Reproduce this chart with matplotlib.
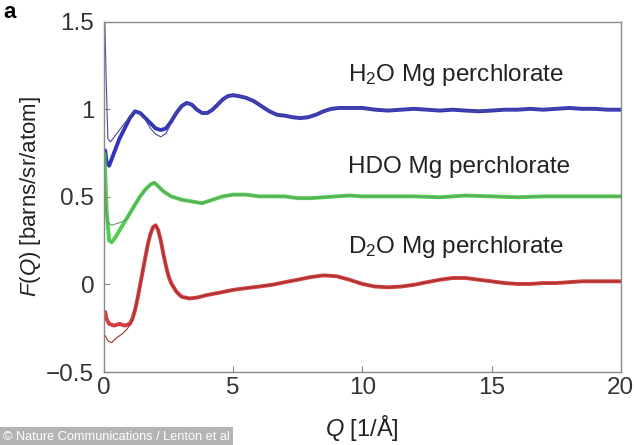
import matplotlib.pyplot as plt
import numpy as np

plt.rcParams['font.family'] = ['Liberation Sans', 'DejaVu Sans']
plt.rcParams['mathtext.fontset'] = 'custom'
plt.rcParams['mathtext.rm'] = 'Liberation Sans'
plt.rcParams['mathtext.it'] = 'Liberation Sans:italic'

# measured total structure factors F(Q), thick = data, thin = model fit
q_h2o = [0.05, 0.1, 0.2, 0.3, 0.45, 0.6, 0.8, 1.0, 1.2, 1.4, 1.6, 1.8, 2.0, 2.2, 2.4,
         2.6, 2.8, 3.0, 3.2, 3.4, 3.6, 3.8, 4.0, 4.2, 4.4, 4.6, 4.8, 5.0, 5.2, 5.5,
         5.8, 6.1, 6.4, 6.7, 7.0, 7.3, 7.6, 7.9, 8.2, 8.5, 8.8, 9.1, 9.5, 10, 10.5,
         11, 11.5, 12, 12.5, 13, 13.5, 14, 14.5, 15, 15.5, 16, 16.5, 17, 17.5, 18,
         18.5, 19, 19.5, 20]
f_h2o = [0.765, 0.697, 0.678, 0.717, 0.775, 0.833, 0.891, 0.950, 0.989, 0.979, 0.950,
         0.921, 0.891, 0.882, 0.891, 0.930, 0.979, 1.018, 1.037, 1.027, 0.998, 0.979,
         0.979, 0.998, 1.027, 1.057, 1.076, 1.081, 1.076, 1.066, 1.047, 1.018, 0.989,
         0.969, 0.964, 0.955, 0.950, 0.955, 0.969, 0.989, 1.003, 1.008, 1.008, 1.008,
         0.998, 0.993, 0.998, 1.003, 0.998, 0.993, 0.998, 0.993, 0.989, 0.993, 0.998,
         0.998, 1.003, 0.998, 1.003, 1.008, 1.003, 1.003, 0.998, 0.998]
q_h2o_fit_low = [0.02, 0.08, 0.15, 0.25, 0.4, 0.6, 0.8, 1.0, 1.2, 1.4, 1.6, 1.8, 2.0,
                 2.2, 2.4, 2.6, 2.8]
f_h2o_fit_low = [1.6, 1.2, 0.833, 0.814, 0.843, 0.882, 0.921, 0.959, 0.989, 0.974,
                 0.940, 0.891, 0.858, 0.843, 0.862, 0.921, 0.979]

q_hdo = [0.02, 0.1, 0.2, 0.3, 0.45, 0.6, 0.8, 1.0, 1.2, 1.4, 1.6, 1.8, 1.95, 2.1, 2.3,
         2.6, 3.0, 3.4, 3.8, 4.2, 4.6, 5.0, 5.5, 6.0, 6.5, 7.0, 7.5, 8.0, 8.5, 9.0,
         9.5, 10, 11, 12, 13, 14, 15, 16, 17, 18, 19, 20]
f_hdo = [0.746, 0.425, 0.251, 0.241, 0.270, 0.309, 0.357, 0.406, 0.455, 0.503, 0.542,
         0.571, 0.581, 0.561, 0.532, 0.503, 0.484, 0.474, 0.464, 0.484, 0.503, 0.513,
         0.513, 0.503, 0.503, 0.503, 0.493, 0.493, 0.498, 0.503, 0.508, 0.503, 0.503,
         0.503, 0.498, 0.508, 0.503, 0.498, 0.503, 0.503, 0.503, 0.503]
q_hdo_fit_low = [0.0, 0.05, 0.12, 0.3, 0.5, 0.7, 0.9]
f_hdo_fit_low = [0.765, 0.523, 0.357, 0.338, 0.348, 0.357, 0.377]

q_d2o = [0.05, 0.1, 0.2, 0.4, 0.6, 0.8, 1.0, 1.1, 1.2, 1.3, 1.4, 1.5, 1.6, 1.7, 1.8,
         1.9, 2.0, 2.1, 2.2, 2.3, 2.4, 2.5, 2.6, 2.8, 3.0, 3.3, 3.6, 4.0, 4.5, 5.0,
         5.5, 6.0, 6.5, 7.0, 7.5, 8.0, 8.5, 9.0, 9.5, 10, 10.5, 11, 11.5, 12, 12.5,
         13, 13.5, 14, 14.5, 15, 15.5, 16, 16.5, 17, 17.5, 18, 18.5, 19, 19.5, 20]
f_d2o = [-0.157, -0.196, -0.225, -0.235, -0.225, -0.235, -0.225, -0.196, -0.147,
         -0.080, -0.002, 0.076, 0.154, 0.231, 0.289, 0.328, 0.338, 0.309, 0.251,
         0.173, 0.105, 0.047, 0.008, -0.041, -0.070, -0.080, -0.075, -0.060, -0.046,
         -0.031, -0.021, -0.012, -0.002, 0.013, 0.027, 0.042, 0.052, 0.047, 0.027,
         0.003, -0.012, -0.016, -0.012, -0.002, 0.013, 0.027, 0.037, 0.037, 0.027,
         0.018, 0.008, 0.003, 0.003, 0.008, 0.008, 0.013, 0.018, 0.018, 0.018, 0.018]
q_d2o_fit_low = [0.05, 0.15, 0.3, 0.5, 0.7, 0.9, 1.1]
f_d2o_fit_low = [-0.293, -0.322, -0.332, -0.303, -0.283, -0.254, -0.206]

labels = ['H$_2$O Mg perchlorate', 'HDO Mg perchlorate', 'D$_2$O Mg perchlorate']
label_y = [1.197, 0.671, 0.214]


def fit_curve(q_low, f_low, q, f):
    # model fit: own values at low Q, follows the data above that
    q = np.asarray(q)
    keep = q > q_low[-1]
    return (np.concatenate([q_low, q[keep]]),
            np.concatenate([f_low, np.asarray(f)[keep]]))


fig = plt.figure(figsize=(6.34, 4.45), dpi=100)
ax = fig.add_axes([0.164, 0.164, 0.815, 0.787])

series = [
    (q_h2o, f_h2o, q_h2o_fit_low, f_h2o_fit_low, '#1e1eb0', '#4a4a9c'),
    (q_hdo, f_hdo, q_hdo_fit_low, f_hdo_fit_low, '#3cc83c', '#6a9a6a'),
    (q_d2o, f_d2o, q_d2o_fit_low, f_d2o_fit_low, '#d02a2a', '#9a3030'),
]
for q, f, ql, fl, c_data, c_fit in series:
    ax.plot(q, f, color=c_data, lw=2.8, alpha=0.9, solid_capstyle='round')
    qf, ff = fit_curve(ql, fl, q, f)
    ax.plot(qf, ff, color=c_fit, lw=0.8)

for lab, y in zip(labels, label_y):
    ax.text(9.45, y, lab, fontsize=17.5, color='#222222', va='center', ha='left')

ax.set_xlim(0, 20)
ax.set_ylim(-0.5, 1.5)
ax.set_xticks([0, 5, 10, 15, 20])
ax.set_yticks([-0.5, 0, 0.5, 1, 1.5])
ax.set_yticklabels(['\u22120.5', '0', '0.5', '1', '1.5'])
ax.tick_params(direction='in', length=4, labelsize=17.5, colors='#888888',
               labelcolor='#333333')
ax.tick_params(axis='y', pad=7)
for s in ax.spines.values():
    s.set_color('#8a8a8a')
    s.set_linewidth(1.0)

ax.set_xlabel('$Q$ [1/\u00c5]', fontsize=17, color='#222222', labelpad=10)
ax.set_ylabel('$F(Q)$ [barns/sr/atom]', fontsize=16, color='#222222', labelpad=2)

fig.text(0.005, 0.995, 'a', fontsize=16, fontweight='bold', va='top', ha='left')
fig.text(0.004, 0.019, '\u00a9 Nature Communications / Lenton et al', fontsize=9.2,
         color='white', va='center', ha='left',
         bbox=dict(boxstyle='square,pad=0.3', fc='#b4b4b4', ec='none'))

fig.savefig('out.png', dpi=100)
